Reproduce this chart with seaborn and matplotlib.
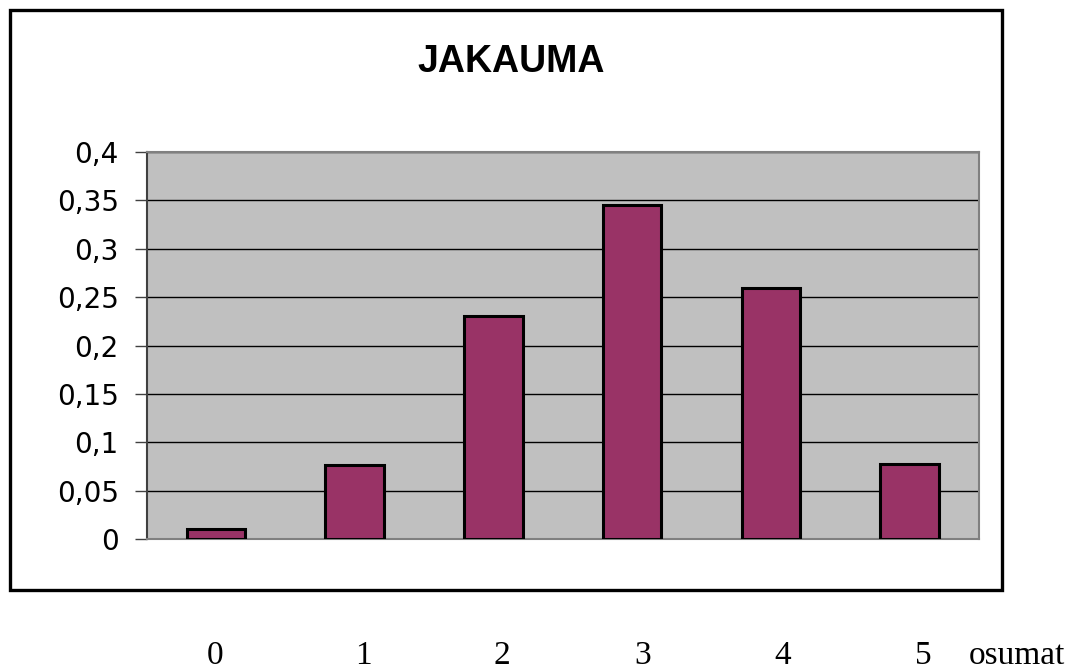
import matplotlib
matplotlib.use("Agg")
import matplotlib.pyplot as plt
import matplotlib.patches as mpatches
import seaborn as sns
import pandas as pd

# Binomial-style distribution of hit counts
categories = ["0", "1", "2", "3", "4", "5"]
probabilities = [0.0102, 0.0768, 0.2304, 0.3456, 0.2592, 0.0778]
y_ticks = [0, 0.05, 0.1, 0.15, 0.2, 0.25, 0.3, 0.35, 0.4]
y_tick_labels = ["0", "0,05", "0,1", "0,15", "0,2", "0,25", "0,3", "0,35", "0,4"]
title_text = "JAKAUMA"
x_axis_name = "osumat"

df = pd.DataFrame({"osumat": categories, "p": probabilities})

sns.set_theme(style="white")
plt.rcParams["font.family"] = ["Liberation Sans", "DejaVu Sans"]
plt.rcParams["text.color"] = "black"
plt.rcParams["ytick.labelcolor"] = "black"

W, H = 1078, 670
fig = plt.figure(figsize=(W / 100, H / 100), dpi=100)
ax = fig.add_axes([146.5 / W, 1 - 539 / H, (979 - 146.5) / W, (539 - 152) / H])
ax.set_facecolor("#C0C0C0")

sns.barplot(data=df, x="osumat", y="p", color="#993366", saturation=1,
            edgecolor="black", linewidth=2.2, width=0.42, ax=ax, zorder=3)

ax.set_ylim(0, 0.4)
ax.set_xlim(-0.5, 5.5)
ax.set_yticks(y_ticks)
ax.set_yticklabels(y_tick_labels, fontsize=20, color="black",
                   family=["DejaVu Sans"])
ax.yaxis.grid(True, color="black", linewidth=1.0, zorder=1)
ax.set_axisbelow(True)
ax.set_xticks([])
ax.set_xlabel("")
ax.set_ylabel("")
ax.tick_params(axis="y", left=True, length=9, width=1, color="#404040", pad=11)

for side in ["top", "right", "bottom"]:
    ax.spines[side].set_color("#808080")
    ax.spines[side].set_linewidth(1.5)
ax.spines["left"].set_color("#404040")
ax.spines["left"].set_linewidth(1.5)

fig.text(511 / W, 1 - 62 / H, title_text, ha="center", va="center",
         fontsize=27, fontweight="bold", color="black")

# outer chart frame
frame = mpatches.Rectangle((10 / W, 1 - 590 / H), (1002 - 10) / W, (590 - 10) / H,
                           transform=fig.transFigure, fill=False,
                           edgecolor="black", linewidth=2.4)
fig.patches.append(frame)

# category labels below the frame
label_x = [215, 363, 502, 643, 783, 923]
serif = ["Liberation Serif", "DejaVu Serif"]
for cat, px in zip(categories, label_x):
    fig.text(px / W, 1 - 664 / H, cat, ha="center", va="baseline",
             fontsize=24, family=serif, color="black")
fig.text(1017 / W, 1 - 664 / H, x_axis_name, ha="center", va="baseline",
         fontsize=24, family=serif, color="black")

fig.savefig("out.png", dpi=100)
